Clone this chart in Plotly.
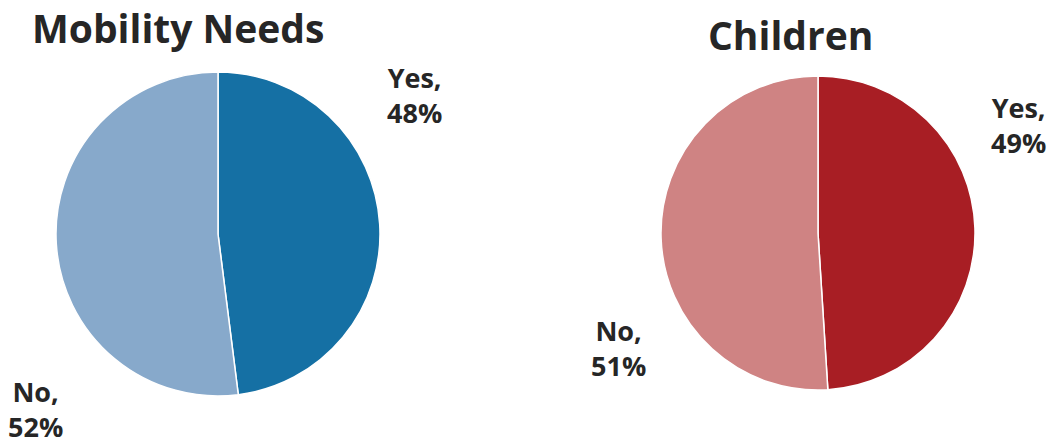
import plotly.graph_objects as go

W, H = 1052, 446

categories = ["Yes", "No"]
mobility_values = [48, 52]
children_values = [49, 51]
titles = ["Mobility Needs", "Children"]

mob_colors = ["#1570A4", "#87A9CB"]
chi_colors = ["#A81E24", "#CF8383"]

def px(x):
    return x / W

def py(y):
    return 1 - y / H

fig = go.Figure()
fig.add_trace(go.Pie(
    labels=categories, values=mobility_values, sort=False, direction="clockwise",
    rotation=0, textinfo="none", hoverinfo="label+percent",
    marker=dict(colors=mob_colors, line=dict(color="white", width=1.5)),
    domain=dict(x=[px(56), px(380)], y=[py(396), py(72)]),
    showlegend=False,
))
fig.add_trace(go.Pie(
    labels=categories, values=children_values, sort=False, direction="clockwise",
    rotation=0, textinfo="none", hoverinfo="label+percent",
    marker=dict(colors=chi_colors, line=dict(color="white", width=1.5)),
    domain=dict(x=[px(661), px(975)], y=[py(390), py(76)]),
    showlegend=False,
))

font_family = "Open Sans"
txt_color = "#262626"

def ann(text, x, y, size):
    fig.add_annotation(
        text=text, x=px(x), y=py(y), xref="paper", yref="paper",
        xanchor="center", yanchor="middle", showarrow=False,
        font=dict(family=font_family, size=size, color=txt_color, weight="bold"),
        align="center",
    )

ann(titles[0], 178, 28, 39)
ann(titles[1], 790, 34, 39)

ann(f"{categories[0]},<br>{mobility_values[0]}%", 414, 95, 27)
ann(f"{categories[1]},<br>{mobility_values[1]}%", 35, 409, 27)
ann(f"{categories[0]},<br>{children_values[0]}%", 1018, 125, 27)
ann(f"{categories[1]},<br>{children_values[1]}%", 618, 348, 27)

fig.update_layout(
    width=W, height=H,
    margin=dict(l=0, r=0, t=0, b=0),
    paper_bgcolor="white", plot_bgcolor="white",
)

fig.write_html(
    "out.html",
    config={"displayModeBar": False},
    post_script="document.body.style.margin='0';document.body.style.overflow='hidden';",
)
